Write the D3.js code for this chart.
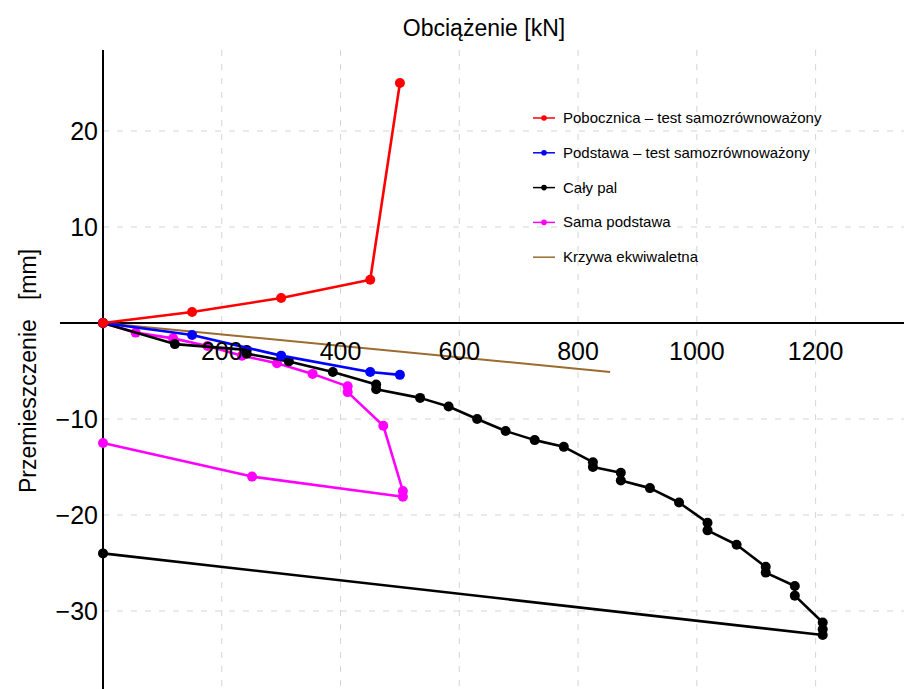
<!DOCTYPE html>
<html>
<head>
<meta charset="utf-8">
<script src="https://cdn.jsdelivr.net/npm/d3@7"></script>
<style>
  body { margin: 0; background: #fff; }
  text { font-family: "Liberation Sans", Arial, sans-serif; }
</style>
</head>
<body>
<div id="chart"></div>
<script>
var width = 904, height = 689;

// obciazenie [kN] / przemieszczenie [mm]
var poboczLoad = [0, 150, 300, 450, 500];
var poboczDisp = [0, 1.15, 2.6, 4.5, 25];

var podstLoad = [0, 150, 300, 450, 500];
var podstDisp = [0, -1.25, -3.4, -5.1, -5.4];

var palLoad = [0, 121, 242, 242, 313, 387, 460, 460, 534, 582, 630, 678, 727, 776, 825, 825, 872, 872, 921, 970, 1018, 1018, 1067, 1116, 1116, 1165, 1165, 1212, 1212, 1212, 0];
var palDisp = [0, -2.2, -2.8, -3.2, -4.0, -5.1, -6.4, -6.9, -7.8, -8.7, -10.0, -11.25, -12.2, -12.9, -14.5, -15.0, -15.6, -16.4, -17.2, -18.7, -20.8, -21.6, -23.1, -25.4, -26.0, -27.4, -28.4, -31.2, -31.9, -32.5, -24.0];

var samaLoad = [0, 55, 118, 176, 234, 293, 353, 412, 412, 472, 505, 505, 251, 0];
var samaDisp = [0, -1.0, -1.6, -2.4, -3.4, -4.2, -5.3, -6.6, -7.2, -10.7, -17.5, -18.1, -16.0, -12.5];

var ekwLoad = [0, 854];
var ekwDisp = [0, -5.1];

var xTicks = [200, 400, 600, 800, 1000, 1200];
var yTicks = [-30, -20, -10, 10, 20];

var seriesNames = ["Pobocznica – test samozrównoważony", "Podstawa – test samozrównoważony", "Cały pal", "Sama podstawa", "Krzywa ekwiwaletna"];
var seriesColors = ["#ff0000", "#0000ff", "#000000", "#ff00ff", "#9c6b30"];
var seriesMarks = [true, true, true, true, false];

var series = [
    {load: poboczLoad, disp: poboczDisp},
    {load: podstLoad, disp: podstDisp},
    {load: palLoad, disp: palDisp},
    {load: samaLoad, disp: samaDisp},
    {load: ekwLoad, disp: ekwDisp}
].map((s, i) => ({
    name: seriesNames[i], color: seriesColors[i], marks: seriesMarks[i],
    pts: s.load.map((v, j) => [v, s.disp[j]])
}));

var x0 = 103, xRight = 904, yTop = 50, yBottom = 689;

var x = d3.scaleLinear().domain([0, 1200]).range([x0, 815.6]);
var y = d3.scaleLinear().domain([-30, 20]).range([611, 131]);

var svg = d3.select("#chart").append("svg").attr("width", width).attr("height", height);

// grid
svg.append("g").selectAll("line").data(xTicks).enter().append("line")
    .attr("x1", d => x(d)).attr("x2", d => x(d))
    .attr("y1", yTop).attr("y2", yBottom)
    .style("stroke", "#d4d4d4").style("stroke-width", 1).style("stroke-dasharray", "6,8");

svg.append("g").selectAll("line").data(yTicks).enter().append("line")
    .attr("x1", x0).attr("x2", xRight)
    .attr("y1", d => y(d)).attr("y2", d => y(d))
    .style("stroke", "#d4d4d4").style("stroke-width", 1).style("stroke-dasharray", "6,8");

// axes
svg.append("line").attr("x1", 60).attr("x2", xRight).attr("y1", y(0)).attr("y2", y(0))
    .style("stroke", "#000").style("stroke-width", 2);
svg.append("line").attr("x1", x0).attr("x2", x0).attr("y1", yTop).attr("y2", yBottom)
    .style("stroke", "#000").style("stroke-width", 2);

// data
var line = d3.line().x(d => x(d[0])).y(d => y(d[1]));
var drawOrder = [4, 3, 2, 1, 0];

drawOrder.forEach(i => {
    var s = series[i];
    var g = svg.append("g");
    g.append("path").datum(s.pts).attr("d", line)
        .style("fill", "none").style("stroke", s.color)
        .style("stroke-width", i == 4 ? 2 : 2.6).style("stroke-linejoin", "round");
    if (s.marks)
        g.selectAll("circle").data(s.pts).enter().append("circle")
            .attr("cx", d => x(d[0])).attr("cy", d => y(d[1])).attr("r", 5)
            .style("fill", s.color);
});

// tick labels
svg.append("g").selectAll("text").data(xTicks).enter().append("text")
    .attr("x", d => x(d)).attr("y", y(0) + 37)
    .style("text-anchor", "middle").style("font-size", "25px")
    .text(d => d);

svg.append("g").selectAll("text").data(yTicks).enter().append("text")
    .attr("x", 98).attr("y", d => y(d) + 9)
    .style("text-anchor", "end").style("font-size", "25px")
    .text(d => d < 0 ? "\u2212" + Math.abs(d) : d);

// titles
svg.append("text").attr("x", 484).attr("y", 36)
    .style("text-anchor", "middle").style("font-size", "23px")
    .text("Obciążenie [kN]");

svg.append("text").attr("transform", "translate(36,371) rotate(-90)")
    .style("text-anchor", "middle").style("font-size", "23px")
    .style("white-space", "pre").attr("xml:space", "preserve")
    .text("Przemieszczenie   [mm]");

// legend
var legendG = svg.append("g").attr("transform", "translate(533,118)");
var legendRow = 34.8;

legendG.selectAll("line").data(series).enter().append("line")
    .attr("x1", 0).attr("x2", 22)
    .attr("y1", (d, i) => i * legendRow).attr("y2", (d, i) => i * legendRow)
    .style("stroke", d => d.color).style("stroke-width", 1.5);

legendG.selectAll("circle").data(series.filter(d => d.marks)).enter().append("circle")
    .attr("cx", 11).attr("cy", (d, i) => i * legendRow).attr("r", 2.8)
    .style("fill", d => d.color);

legendG.selectAll("text").data(series).enter().append("text")
    .attr("x", 30).attr("y", (d, i) => i * legendRow + 5)
    .style("font-size", "15px")
    .text(d => d.name);
</script>
</body>
</html>
